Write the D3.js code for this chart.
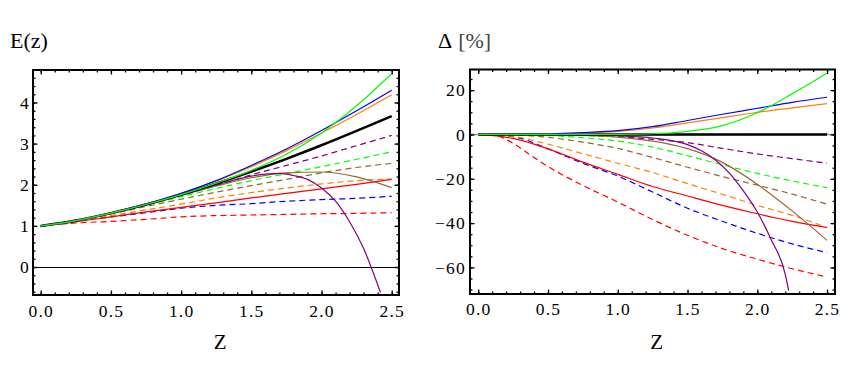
<!DOCTYPE html>
<html>
<head>
<meta charset="utf-8">
<script src="https://cdn.jsdelivr.net/npm/d3@7"></script>
<style>
body { margin: 0; background: #fff; }
svg text { font-family: "Liberation Serif", "Times New Roman", serif; fill: #000; }
.tick text { letter-spacing: 1.2px; }
</style>
</head>
<body>
<svg width="866" height="370"></svg>
<script>
// redshift samples shared by most curves
var zs = [0, 0.25, 0.5, 0.75, 1, 1.25, 1.5, 1.75, 2, 2.25, 2.5];

// left panel: E(z)
var eRef     = [1, 1.13, 1.31, 1.52, 1.76, 2.03, 2.32, 2.63, 2.96, 3.31, 3.67];
var eGreen   = [1, 1.13, 1.31, 1.52, 1.76, 2.04, 2.35, 2.74, 3.26, 3.92, 4.70];
var eBlue    = [1, 1.13, 1.31, 1.53, 1.79, 2.10, 2.47, 2.87, 3.32, 3.80, 4.30];
var eOrange  = [1, 1.13, 1.31, 1.53, 1.79, 2.09, 2.44, 2.83, 3.26, 3.71, 4.19];
var ePurpleD = [1, 1.13, 1.31, 1.51, 1.74, 1.98, 2.24, 2.47, 2.70, 2.95, 3.20];
var eGreenD  = [1, 1.13, 1.30, 1.50, 1.71, 1.91, 2.10, 2.27, 2.44, 2.62, 2.80];
var eBrownD  = [1, 1.13, 1.29, 1.47, 1.65, 1.82, 1.98, 2.13, 2.29, 2.42, 2.52];
var eOrangeD = [1, 1.12, 1.25, 1.39, 1.53, 1.68, 1.81, 1.92, 2.02, 2.10, 2.14];
var eRed     = [1, 1.10, 1.22, 1.34, 1.45, 1.56, 1.68, 1.79, 1.90, 2.01, 2.13];
var eBrown   = [1, 1.13, 1.31, 1.51, 1.74, 1.97, 2.17, 2.29, 2.31, 2.19, 1.93];
var eBlueD   = [1, 1.12, 1.22, 1.32, 1.43, 1.50, 1.54, 1.60, 1.64, 1.67, 1.72];
var eRedD    = [1, 1.07, 1.11, 1.16, 1.22, 1.25, 1.265, 1.28, 1.295, 1.305, 1.32];
// purple solid falls off sharply, so it has its own samples
var zPurple  = [0, 0.25, 0.5, 0.75, 1, 1.25, 1.5, 1.6, 1.7, 1.8, 1.9, 2.0, 2.1, 2.2, 2.3, 2.42];
var ePurple  = [1, 1.13, 1.31, 1.52, 1.75, 1.995, 2.21, 2.26, 2.275, 2.225, 2.13, 1.92, 1.6, 1.1, 0.45, -0.62];

// right panel: deviation in percent
var dRef     = [0, 0, 0, 0, 0, 0, 0, 0, 0, 0, 0];
var dGreen   = [0, 0, 0, 0, 0, 0.3, 1.4, 4.0, 9.8, 18.3, 27.6];
var dBlue    = [0, 0, 0.2, 0.8, 1.7, 3.5, 6.3, 9.1, 11.8, 14.5, 16.8];
var dOrange  = [0, 0, 0.2, 0.7, 1.4, 2.9, 5.2, 7.6, 10.0, 12.0, 13.9];
var dPurpleD = [0, 0, -0.1, -0.4, -1.0, -2.2, -3.7, -6.3, -8.8, -10.9, -13.0];
var dGreenD  = [0, 0, -0.4, -1.5, -3.0, -5.7, -9.6, -13.7, -17.6, -21.0, -24.0];
var dBrownD  = [0, -0.2, -1.3, -3.5, -6.3, -10.4, -14.8, -19.0, -22.9, -26.9, -31.5];
var dOrangeD = [0, -0.9, -4.4, -8.7, -13.0, -17.2, -22.2, -27.0, -32.0, -36.5, -42.0];
var dRed     = [0, -1.8, -6.5, -12.5, -18.0, -23.5, -27.8, -32.0, -35.8, -39.2, -42.0];
var dBrown   = [0, 0, -0.1, -0.4, -1.2, -3.0, -6.4, -12.6, -22.5, -34.5, -47.8];
var dBlueD   = [0, -1.0, -6.5, -13.0, -18.8, -26.0, -33.3, -39.2, -44.6, -49.4, -53.3];
// red dashed bends early, read at finer steps near the origin
var zRedD    = [0, 0.125, 0.25, 0.375, 0.5, 0.75, 1, 1.25, 1.5, 1.75, 2, 2.25, 2.5];
var dRedD    = [0, -0.6, -4.0, -9.4, -14.5, -23.0, -30.5, -38.4, -45.5, -51.5, -56.3, -60.6, -64.3];
var zPurpleR = [0, 0.25, 0.5, 0.75, 1, 1.25, 1.5, 1.6, 1.7, 1.8, 1.9, 2.0, 2.1, 2.2, 2.225];
var dPurple  = [0, 0, 0, -0.2, -0.6, -1.6, -4.6, -7.4, -11.5, -17.5, -25.5, -35, -47.5, -63, -70.5];

// tick labels
var xTicks = [0, 0.5, 1, 1.5, 2, 2.5];
var leftYTicks = [0, 1, 2, 3, 4];
var rightYTicks = [-60, -40, -20, 0, 20];

var RED = '#ff0000', BLUE = '#0000ff', GREEN = '#00ff00',
    ORANGE = '#ff8000', PURPLE = '#800080', BROWN = '#996633';

var svg = d3.select('svg');

function series(xs, ys, color, dashed, width) {
    return {pts: xs.map(function(x, i) { return [x, ys[i]]; }),
            color: color, dashed: dashed, width: width || 1.2};
}

var leftSeries = [
    series(zs, eRedD, RED, true),
    series(zs, eBlueD, BLUE, true),
    series(zs, eOrangeD, ORANGE, true),
    series(zs, eBrownD, BROWN, true),
    series(zs, eGreenD, GREEN, true),
    series(zs, ePurpleD, PURPLE, true),
    series(zs, eRed, RED, false),
    series(zs, eBrown, BROWN, false),
    series(zPurple, ePurple, PURPLE, false),
    series(zs, eRef, '#000', false, 2.5),
    series(zs, eOrange, ORANGE, false),
    series(zs, eBlue, BLUE, false),
    series(zs, eGreen, GREEN, false)
];

var rightSeries = [
    series(zRedD, dRedD, RED, true),
    series(zs, dBlueD, BLUE, true),
    series(zs, dOrangeD, ORANGE, true),
    series(zs, dBrownD, BROWN, true),
    series(zs, dGreenD, GREEN, true),
    series(zs, dPurpleD, PURPLE, true),
    series(zs, dRed, RED, false),
    series(zs, dBrown, BROWN, false),
    series(zPurpleR, dPurple, PURPLE, false),
    series(zs, dRef, '#000', false, 2.5),
    series(zs, dOrange, ORANGE, false),
    series(zs, dBlue, BLUE, false),
    series(zs, dGreen, GREEN, false)
];

function drawPanel(p) {
    var x = d3.scaleLinear().domain(p.xDom).range([p.l, p.r]);
    var y = d3.scaleLinear().domain(p.yDom).range([p.b, p.t]);
    var g = svg.append('g');

    g.append('clipPath').attr('id', p.id)
        .append('rect')
        .attr('x', p.l).attr('y', p.t)
        .attr('width', p.r - p.l).attr('height', p.b - p.t);

    var plot = g.append('g').attr('clip-path', 'url(#' + p.id + ')');

    // zero line across the frame
    plot.append('line')
        .attr('x1', p.l).attr('x2', p.r)
        .attr('y1', Math.round(y(0)) + 0.5).attr('y2', Math.round(y(0)) + 0.5)
        .attr('stroke', p.zeroColor)
        .attr('stroke-width', p.zeroWidth);

    var line = d3.line()
        .x(function(d) { return x(d[0]); })
        .y(function(d) { return y(d[1]); })
        .curve(d3.curveMonotoneX);

    plot.selectAll('.curve')
        .data(p.series)
        .enter().append('path')
        .attr('class', 'curve')
        .attr('d', function(d) { return line(d.pts); })
        .attr('fill', 'none')
        .attr('stroke', function(d) { return d.color; })
        .attr('stroke-width', function(d) { return d.width; })
        .attr('stroke-dasharray', function(d) { return d.dashed ? '6,4' : null; });

    // frame ticks, pointing inward on all four sides
    var minorX = d3.range(0, 26).map(function(i) { return i / 10; });
    function axisGroup(axis, tx, ty, labels) {
        var a = g.append('g')
            .attr('transform', 'translate(' + [tx, ty] + ')')
            .call(axis)
            .attr('font-size', 17.5)
            .attr('font-family', null);
        a.select('.domain').remove();
        a.selectAll('.tick line').attr('stroke', '#000').attr('stroke-width', 1.3);
        if (!labels) a.selectAll('.tick text').remove();
        return a;
    }

    axisGroup(d3.axisBottom(x).tickValues(xTicks).tickSize(-4.5).tickPadding(p.xPad)
        .tickFormat(d3.format('.1f')), 0, p.b, true);
    axisGroup(d3.axisBottom(x).tickValues(minorX).tickSize(-2.5).tickFormat(''), 0, p.b, false);
    axisGroup(d3.axisTop(x).tickValues(xTicks).tickSize(-4.5).tickFormat(''), 0, p.t, false);
    axisGroup(d3.axisTop(x).tickValues(minorX).tickSize(-2.5).tickFormat(''), 0, p.t, false);

    axisGroup(d3.axisLeft(y).tickValues(p.yTicks).tickSize(-4.5).tickPadding(p.yPad)
        .tickFormat(d3.format('d')), p.l, 0, true);
    axisGroup(d3.axisLeft(y).tickValues(p.yMinor).tickSize(-2.5).tickFormat(''), p.l, 0, false);
    axisGroup(d3.axisRight(y).tickValues(p.yTicks).tickSize(-4.5).tickFormat(''), p.r, 0, false);
    axisGroup(d3.axisRight(y).tickValues(p.yMinor).tickSize(-2.5).tickFormat(''), p.r, 0, false);

    g.append('rect')
        .attr('x', p.l).attr('y', p.t)
        .attr('width', p.r - p.l).attr('height', p.b - p.t)
        .attr('fill', 'none')
        .attr('stroke', '#000')
        .attr('stroke-width', 2);

    g.append('text')
        .attr('x', (x(0) + x(2.5)) / 2 + 4)
        .attr('y', 349)
        .attr('text-anchor', 'middle')
        .attr('font-size', 21)
        .text('Z');

    return g;
}

drawPanel({
    id: 'clipL', l: 33, r: 399, t: 70, b: 295,
    xDom: [-0.055, 2.552], yDom: [-0.68, 4.79],
    yTicks: leftYTicks,
    yMinor: d3.range(-3, 24).map(function(i) { return i * 0.2; }),
    xPad: 9.2, yPad: 3,
    zeroColor: '#000', zeroWidth: 1,
    series: leftSeries
});

drawPanel({
    id: 'clipR', l: 470, r: 835, t: 69.5, b: 294,
    xDom: [-0.059, 2.557], yDom: [-72, 29.3],
    yTicks: rightYTicks,
    yMinor: d3.range(-14, 6).map(function(i) { return i * 5; }),
    xPad: 8.8, yPad: 4,
    zeroColor: '#9a9a9a', zeroWidth: 1.5,
    series: rightSeries
});

// panel titles
svg.append('text')
    .attr('x', 10).attr('y', 47.5)
    .attr('font-size', 22)
    .text('E(z)');

var t2 = svg.append('text')
    .attr('x', 438).attr('y', 48)
    .attr('font-size', 22);
t2.append('tspan').text('\u0394');
t2.append('tspan').attr('dx', 6).attr('fill', '#444').text('[%]');
</script>
</body>
</html>
